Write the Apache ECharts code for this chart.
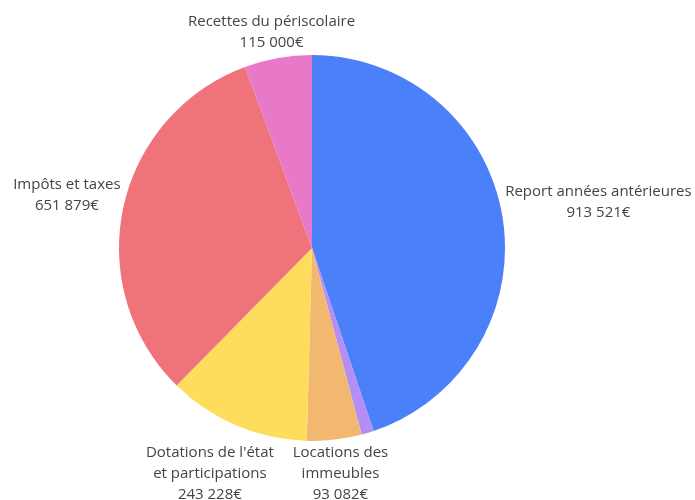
<!DOCTYPE html>
<html>
<head>
<meta charset="utf-8">
<script src="https://cdn.jsdelivr.net/npm/echarts@6/dist/echarts.min.js"></script>
<style>html,body{margin:0;padding:0;background:#fff}#chart{width:695px;height:500px}</style>
</head>
<body>
<div id="chart"></div>
<script>
const names = ["Report années antérieures", "Autres", "Locations des\nimmeubles", "Dotations de l'état\net participations", "Impôts et taxes", "Recettes du périscolaire"];
const values = [913521, 21000, 93082, 243228, 651879, 115000];
const colors = ["#4b80f9", "#b28ef5", "#f2b870", "#ffdd5c", "#ef737b", "#e879c8"];
const showLabel = [true, false, true, true, true, true];
// small label nudges (px) applied after the automatic outside placement
const labelNudgeX = [0, 0, 0, 0, 0, 9];
const labelNudgeY = [7, 0, -1, 13, 10, -1];

const CX = 312, CY = 248, R = 193, GAP = 4;
const total = values.reduce((a, b) => a + b, 0);
function midAngle(i) {
  let s = 0;
  for (let k = 0; k < i; k++) s += values[k];
  return (s + values[i] / 2) / total * 2 * Math.PI;
}
function fmt(v) {
  return String(v).replace(/\B(?=(\d{3})+(?!\d))/g, ' ') + '€';
}

const chart = echarts.init(document.getElementById('chart'));
chart.setOption({
  animation: false,
  series: [{
    type: 'pie',
    center: [CX, CY],
    radius: R,
    startAngle: 90,
    clockwise: true,
    avoidLabelOverlap: false,
    emphasis: { disabled: true },
    itemStyle: { borderWidth: 0 },
    label: {
      show: true,
      position: 'outside',
      fontFamily: 'Open Sans',
      fontSize: 15,
      lineHeight: 21,
      color: '#444',
      formatter: p => p.name + '\n' + fmt(p.value)
    },
    labelLine: { show: false },
    labelLayout: function (p) {
      const i = p.dataIndex;
      const a = midAngle(i);
      const sx = Math.sin(a), sy = -Math.cos(a);
      const px = CX + (R + GAP) * sx, py = CY + (R + GAP) * sy;
      const w = p.labelRect.width;
      return {
        x: px + sx * w / 2 + labelNudgeX[i],
        y: py + labelNudgeY[i],
        align: 'center',
        verticalAlign: sy < 0 ? 'bottom' : 'top'
      };
    },
    data: names.map((n, i) => ({
      name: n,
      value: values[i],
      itemStyle: { color: colors[i] },
      label: { show: showLabel[i] }
    }))
  }]
});
</script>
</body>
</html>
